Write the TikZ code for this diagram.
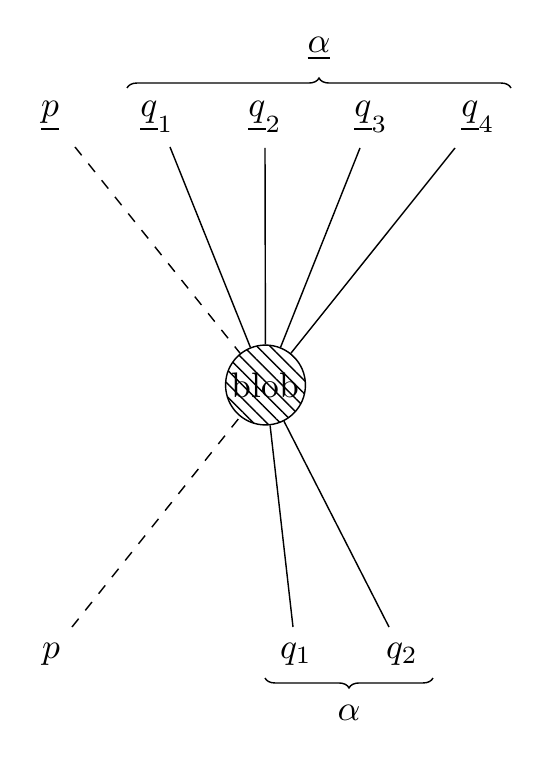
\documentclass[tikz,border=0pt]{standalone}
\usetikzlibrary{patterns.meta,decorations.pathreplacing}
\begin{document}
\begin{tikzpicture}[x=0.2817pt,y=-0.2817pt,
  lbl/.style={anchor=base,inner sep=0pt},
  fermion/.style={line width=0.4pt},
  scalar/.style={line width=0.4pt,dash pattern=on 3pt off 3pt},
  blobstyle/.style={circle,draw,line width=0.4pt,minimum size=22.5pt,inner sep=0pt,
    pattern={Lines[angle=-45,distance=2.65pt,line width=0.4pt]}},
  bracestyle/.style={decorate,decoration={brace,amplitude=2.8pt},line width=0.4pt}]
\useasboundingbox (0,0) rectangle (548,768);
% blob
\node[blobstyle] (blob) at (265.5,385) {};
\node[inner sep=0pt] (blobtext) at (265.5,385) {blob};
% top endpoints
\coordinate (tp) at (75,147);
\coordinate (tq1) at (170,147);
\coordinate (tq2) at (265,148);
\coordinate (tq3) at (360,148);
\coordinate (tq4) at (455,148);
% bottom endpoints
\coordinate (bp) at (72,627);
\coordinate (bq1) at (293,627);
\coordinate (bq2) at (389,627);
% connectors
\draw[scalar] (tp) -- (blob);
\draw[fermion] (tq1) -- (blob);
\draw[fermion] (tq2) -- (blob);
\draw[fermion] (tq3) -- (blob);
\draw[fermion] (tq4) -- (blob);
\draw[scalar] (bp) -- (blob);
\draw[fermion] (bq1) -- (blob);
\draw[fermion] (bq2) -- (blob);
% top labels
\node[lbl] (ltp) at (50,117) {$\underline{p}$};
\node[lbl] (ltq1) at (157,117) {$\underline{q}_1$};
\node[lbl] (ltq2) at (265,117) {$\underline{q}_2$};
\node[lbl] (ltq3) at (371,117) {$\underline{q}_3$};
\node[lbl] (ltq4) at (478,117) {$\underline{q}_4$};
% bottom labels
\node[lbl] (lbp) at (51,658) {$p$};
\node[lbl] (lbq1) at (296,658) {$q_1$};
\node[lbl] (lbq2) at (402,658) {$q_2$};
% braces
\coordinate (tb1) at (127,88);
\coordinate (tb2) at (511,88);
\draw[bracestyle] (tb1) -- (tb2);
\node[lbl] (talpha) at (319,53) {$\underline{\alpha}$};
\coordinate (bb1) at (433,678);
\coordinate (bb2) at (265,678);
\draw[bracestyle] (bb1) -- (bb2);
\node[lbl] (balpha) at (349,720) {$\alpha$};
\end{tikzpicture}
\end{document}
